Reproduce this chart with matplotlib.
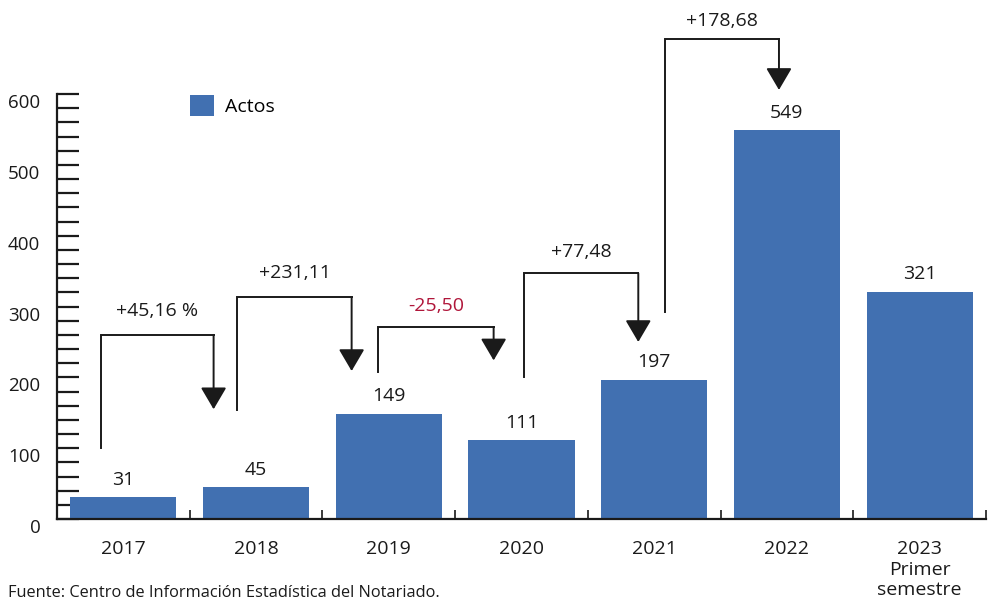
import matplotlib
matplotlib.use('Agg')
import matplotlib.pyplot as plt
import matplotlib.transforms as mtransforms
from matplotlib.ticker import FixedLocator

plt.rcParams['font.family'] = ['Open Sans', 'DejaVu Sans']

categories = ['2017', '2018', '2019', '2020', '2021', '2022', '2023\nPrimer\nsemestre']
actos = [31, 45, 149, 111, 197, 549, 321]

# variation brackets: label, x left, x right, y bottom, y top, y arrow tip, label y
var_labels = ['+45,16 %', '+231,11', '-25,50', '+77,48', '+178,68']
var_xleft = [-0.17, 0.86, 1.92, 3.02, 4.08]
var_xright = [0.68, 1.72, 2.79, 3.88, 4.94]
var_ybottom = [100, 154, 207, 200, 292]
var_ytop = [260, 313, 271, 347, 678]
var_ytip = [155, 209, 224, 250, 606]
var_ylabel = [294, 347, 301, 377, 704]
var_colors = ['#1a1a1a', '#1a1a1a', '#b0163a', '#1a1a1a', '#1a1a1a']

bar_color = '#4170b1'
ink = '#1a1a1a'

fig = plt.figure(figsize=(10, 6.11), dpi=100)
ax = fig.add_axes([0.057, 92 / 611, 0.929, 519 / 611])

x = list(range(len(categories)))
ax.bar(x, actos, width=0.8, color=bar_color, label='Actos', zorder=2)

for xi, v in zip(x, actos):
    ax.annotate(str(v), (xi, v), xytext=(0, 6), textcoords='offset points',
                ha='center', va='bottom', fontsize=14, color=ink)

for i in range(len(var_labels)):
    xl, xr = var_xleft[i], var_xright[i]
    ax.plot([xl, xl, xr, xr], [var_ybottom[i], var_ytop[i], var_ytop[i], var_ytop[i]],
            color=ink, lw=1.4, solid_joinstyle='miter', clip_on=False)
    ax.annotate('', xy=(xr, var_ytip[i]), xytext=(xr, var_ytop[i]),
                arrowprops=dict(arrowstyle='-|>,head_length=0.68,head_width=0.4',
                                lw=1.4, color=ink, shrinkA=0, shrinkB=0,
                                mutation_scale=20), annotation_clip=False)
    ax.text((xl + xr) / 2, var_ylabel[i], var_labels[i], ha='center', va='center',
            fontsize=14, color=var_colors[i], clip_on=False)

ax.set_xlim(-0.5, 6.5)
ax.set_ylim(0, 733)

for s in ['top', 'right']:
    ax.spines[s].set_visible(False)
ax.spines['left'].set_bounds(0, 600)
ax.spines['left'].set_linewidth(1.6)
ax.spines['bottom'].set_linewidth(1.6)
ax.spines['left'].set_color(ink)
ax.spines['bottom'].set_color(ink)

ax.set_yticks(range(0, 601, 100))
ax.yaxis.set_minor_locator(FixedLocator([v for v in range(0, 601, 20) if v % 100]))
ax.tick_params(axis='y', which='both', direction='in', length=16, width=1.6,
               color=ink, labelsize=13.5, pad=12, labelcolor=ink)
# y labels sit a little below their ticks in the original
shift = mtransforms.ScaledTranslation(0, -0.07, fig.dpi_scale_trans)
for lab in ax.get_yticklabels():
    lab.set_transform(lab.get_transform() + shift)

ax.set_xticks(x)
ax.set_xticklabels(categories, linespacing=1.2)
ax.xaxis.set_minor_locator(FixedLocator([i + 0.5 for i in range(-1, 7)]))
ax.tick_params(axis='x', which='major', length=0, labelsize=14, pad=15, labelcolor=ink)
ax.tick_params(axis='x', which='minor', direction='in', length=6.5, width=1.2, color=ink)

ax.legend(loc='center left', bbox_to_anchor=(0.135, 0.796), frameon=False, fontsize=14,
          handlelength=1.24, handleheight=1.24, handletextpad=0.55, borderaxespad=0)

fig.text(0.008, 18 / 611, 'Fuente: Centro de Información Estadística del Notariado.',
         fontsize=11.8, color=ink, ha='left', va='center')

fig.savefig('out.png', dpi=100)
